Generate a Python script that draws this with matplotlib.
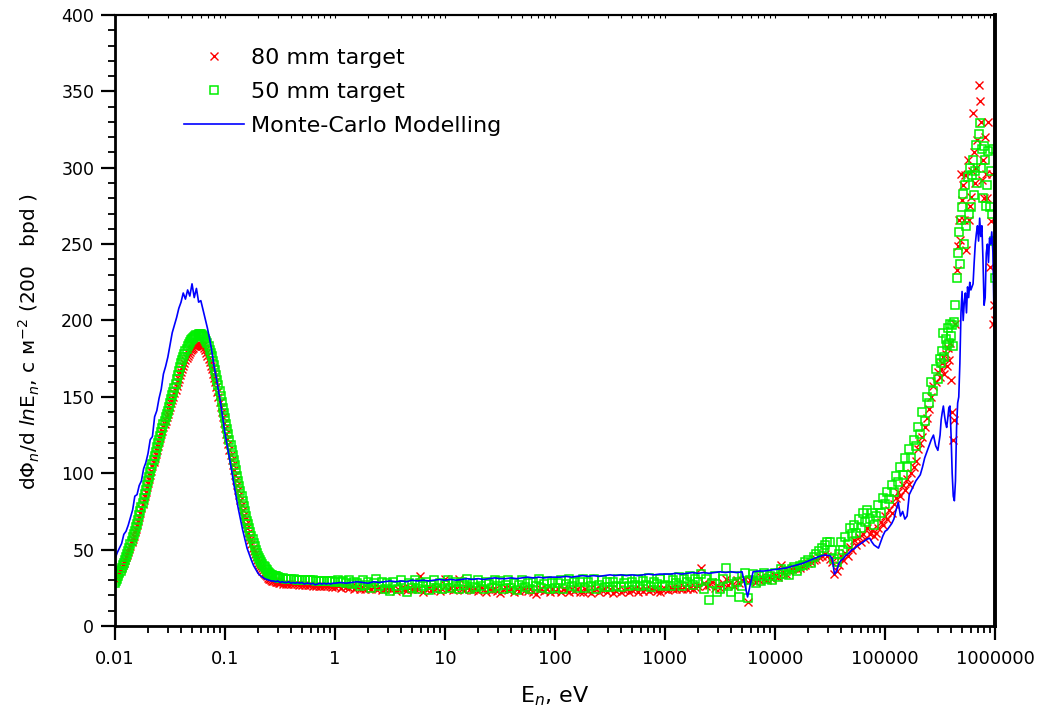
import numpy as np
import matplotlib.pyplot as plt
from matplotlib.ticker import LogLocator, MultipleLocator, NullFormatter

# lethargy bins, log10(E / eV)
# measured spectra: fine thermal grid, epithermal grid, fast and top-end grids
log_e_meas = np.concatenate([
    np.linspace(-2.0, -0.51, 150),
    np.linspace(-0.5, 4.5, 201),
    np.linspace(4.52, 5.5, 50),
    np.linspace(5.51, 6.0, 50),
])
# Monte-Carlo tally bins
log_e_mc = np.concatenate([
    np.linspace(-2.0, -0.02, 100),
    np.linspace(0.0, 4.5, 91),
    np.linspace(4.52, 5.5, 50),
    np.linspace(5.51, 6.0, 50),
])

# ---- 80 mm target (measured) ----
flux_80_thermal = [
    31, 32, 33, 34.2, 35.5, 37, 38.5, 40, 41.5, 43.2,
    45, 46.7, 48.5, 50.5, 52.5, 54.7, 57, 59.2, 61.5, 63.7,
    66, 68.7, 71.5, 74.2, 77, 79.7, 82.5, 85.2, 88, 90.7,
    93.5, 96.2, 99, 101.7, 104.5, 107.2, 110, 112.7, 115.5, 118,
    120.5, 123, 125.5, 127.7, 130, 132.2, 134.5, 136.7, 139, 141.2,
    143.5, 145.7, 148, 150.2, 152.5, 154.7, 157, 159.5, 162, 164.2,
    166.5, 168.5, 170.5, 172.2, 174, 175.5, 177, 178.2, 179.5, 180.5,
    181.5, 182.2, 183, 183.5, 184, 184.2, 184.5, 184.2, 184, 183.5,
    183, 181.7, 180.5, 178.7, 177, 175, 173, 170.5, 168, 165.2,
    162.5, 159.5, 156.5, 153.2, 150, 146.7, 143.5, 140, 136.5, 133,
    129.5, 126, 122.5, 119, 115.5, 112, 108.5, 105.2, 102, 98.7,
    95.5, 92.2, 89, 85.7, 82.5, 79.2, 76, 73, 70, 67,
    64, 61.2, 58.5, 56, 53.5, 51.2, 49, 47, 45, 43.2,
    41.5, 40, 38.5, 37.2, 36, 35, 34, 33.2, 32.5, 31.7,
    31, 30.5, 30, 29.7, 29.5, 29.2, 29, 28.7, 28.5, 28.2,
]
flux_80_epi = [
    28, 27.8, 27.7, 27.5, 27.5, 27.3, 27.2, 27, 27, 26.8,
    26.7, 26.6, 26.5, 26.4, 26.3, 26.2, 26.1, 26, 26, 25.8,
    25.5, 26, 25, 26, 25.5, 25, 26, 24.5, 25.5, 24,
    25, 24.5, 25, 24, 25.5, 24, 25, 23.5, 24.5, 25,
    24, 25, 23, 24.5, 25, 24, 23.5, 25, 24, 24.5,
    24, 33, 22, 24.5, 25, 23.5, 24, 25, 23, 24.5,
    31, 24, 25, 23.5, 24, 31, 24.5, 23.5, 25, 24,
    23.5, 24.5, 23, 25, 24, 22.5, 24.5, 23.5, 24, 23,
    21.5, 24, 25, 23.5, 24, 22.5, 24.5, 23, 24, 23.5,
    23, 24, 22.5, 21, 23.5, 24.5, 23, 24, 22.5, 24,
    23, 24, 22.5, 24, 23.5, 22, 24, 23, 24.5, 22.5,
    22, 24, 23, 21.5, 23.5, 24, 22, 23.5, 24, 22.5,
    24, 21.5, 23, 24, 22, 23.5, 24, 22.5, 23.5, 24,
    22.5, 24, 23, 24.5, 23, 24, 24.5, 23, 22.5, 24,
    24, 23.5, 25, 24, 24.5, 25, 24, 25.5, 24.5, 25,
    24, 25.5, 26, 38, 28, 26, 27, 29, 25, 27,
    25, 28, 31, 27, 29, 26, 30, 28, 30, 31,
    16, 30, 31, 29, 30, 32, 31, 30, 32, 31,
    33, 32, 40, 35, 34, 36, 37, 38, 37, 38,
    39, 40, 41, 42, 43, 44, 45, 46, 47, 46,
    44,
]
flux_80_fast = [
    42, 34, 36, 40, 46, 43, 48, 46, 52, 50,
    56, 53, 58, 55, 60, 57, 64, 60, 63, 59,
    61, 64, 68, 66, 72, 70, 76, 74, 80, 84,
    88, 85, 92, 89, 96, 93, 100, 104, 108, 116,
    120, 124, 130, 136, 142, 150, 157, 160, 166, 163,
]
flux_80_top = [
    168, 172, 176, 165, 178, 170, 182, 174, 185, 161,
    140, 122, 135, 198, 233, 249, 266, 253, 296, 279,
    289, 266, 295, 246, 305, 266, 275, 281, 298, 336,
    310, 290, 300, 318, 354, 344, 330, 292, 305, 280,
    320, 296, 280, 330, 235, 265, 296, 198, 210, 200,
]

# ---- 50 mm target (measured) ----
flux_50_thermal = [
    28, 29.5, 31, 32.7, 34.5, 36.2, 38, 39.7, 41.5, 43.2,
    45, 47, 49, 51.2, 53.5, 55.7, 58, 60.2, 62.5, 64.7,
    67, 69.7, 72.5, 75.2, 78, 80.7, 83.5, 86.2, 89, 92,
    95, 97.7, 100.5, 103.2, 106, 108.7, 111.5, 114.2, 117, 119.5,
    122, 124.5, 127, 129.5, 132, 134.2, 136.5, 138.7, 141, 143.5,
    146, 148.5, 151, 153.5, 156, 158.7, 161.5, 164.2, 167, 169.5,
    172, 174, 176, 178, 180, 181.5, 183, 184.5, 186, 187,
    188, 188.7, 189.5, 190, 190.5, 190.7, 191, 191, 191, 190.5,
    190, 189, 188, 186.5, 185, 183, 181, 178.7, 176.5, 173.7,
    171, 167.7, 164.5, 161, 157.5, 154, 150.5, 146.7, 143, 139.5,
    136, 132.5, 129, 125.5, 122, 118.5, 115, 111.7, 108.5, 105.2,
    102, 98.5, 95, 91.7, 88.5, 85.2, 82, 78.7, 75.5, 72.2,
    69, 66.5, 64, 61.5, 59, 56.7, 54.5, 52.2, 50, 48,
    46, 44.5, 43, 41.7, 40.5, 39.5, 38.5, 37.5, 36.5, 35.5,
    34.5, 34, 33.5, 33.2, 33, 32.7, 32.5, 32.2, 32, 31.7,
]
flux_50_epi = [
    31.5, 31.2, 31, 30.8, 30.5, 30.6, 30.4, 30.3, 30.2, 30,
    30.1, 29.8, 29.9, 29.6, 29.7, 29.4, 29.6, 29.3, 29.5, 29.2,
    29, 30, 28.5, 29.5, 28, 30, 27.5, 29, 28, 26.5,
    30, 27, 29, 25, 28, 31, 26, 29, 24, 28,
    23, 29, 26, 24, 30, 27, 22.5, 28, 25, 30,
    24, 28, 26.5, 29, 23.5, 27, 30, 25, 28, 24,
    27, 30, 25, 28.5, 26, 24, 29, 27, 30.5, 24,
    28, 25.5, 30, 26, 24.5, 29, 27.5, 25, 30, 26,
    29.5, 24, 27, 30, 25, 28, 23.5, 27, 30, 25.5,
    28, 24.5, 29, 26, 30.5, 25, 27.5, 29.5, 24.5, 28,
    25, 28, 30, 24.5, 27.5, 30.5, 26, 29, 25, 28.5,
    30.5, 25, 28.5, 26, 31, 24.5, 27, 30, 25.5, 29,
    25.5, 29, 26.5, 31, 25.5, 28, 30.5, 26, 29, 27,
    31, 26, 29.5, 27, 31.5, 25.5, 29, 27.5, 31, 26,
    27, 31.5, 26.5, 30, 28, 32, 26, 30.5, 28.5, 32.5,
    27, 31, 29, 34, 24, 31, 17, 28, 33, 22,
    24, 31, 38, 26, 22, 33, 29, 19, 26, 35,
    18.5, 30, 34, 28, 33, 29.5, 35, 31, 33, 30,
    35, 32, 37, 34, 36, 33.5, 37, 38.5, 36, 39,
    40, 42, 43, 41, 45, 47, 49, 51, 53, 55,
    55,
]
flux_50_fast = [
    50, 44, 42, 47, 55, 50, 58, 54, 64, 60,
    66, 61, 70, 64, 74, 68, 76, 70, 74, 66,
    72, 79, 74, 84, 80, 88, 83, 92, 88, 98,
    94, 104, 99, 110, 104, 116, 110, 122, 118, 130,
    126, 140, 134, 150, 146, 160, 154, 168, 162, 175,
]
flux_50_top = [
    172, 180, 192, 176, 188, 184, 195, 185, 198, 190,
    197, 183, 199, 210, 228, 244, 258, 237, 266, 274,
    283, 250, 289, 262, 294, 270, 300, 274, 295, 305,
    282, 298, 315, 290, 322, 329, 300, 312, 280, 314,
    305, 275, 289, 311, 274, 298, 270, 312, 252, 228,
]

# ---- Monte-Carlo calculation ----
flux_mc_thermal = [
    44, 48, 51, 54, 60, 62, 66, 71, 76, 85,
    86, 92, 95, 103, 107, 113, 122, 124, 137, 141,
    149, 155, 165, 170, 176, 184, 192, 197, 202, 208,
    212, 218, 214, 220, 216, 224, 215, 221, 212, 213,
    207, 201, 195, 188, 180, 170, 163, 154, 146, 136,
    126, 118, 110, 102, 93, 85, 77, 70, 63, 57,
    51, 47, 43, 39.5, 37, 34.5, 33, 32, 31, 30.5,
    30, 29.5, 29.5, 29, 29.5, 28.5, 29, 28.5, 28.5, 29,
    28, 28.5, 28, 28.5, 28, 28.5, 27.5, 28, 28, 27.5,
    28, 27, 27.5, 28, 27.5, 28, 27.5, 28, 27.5, 28,
]
flux_mc_epi = [
    28, 28.5, 28, 28.5, 29, 28.5, 28, 29, 28.5, 29,
    29.5, 29, 29.5, 29, 30, 29.5, 30, 29.5, 30, 30.5,
    30, 30.5, 30, 30.5, 31, 30.5, 31, 30.5, 31, 31.5,
    31, 31, 31.5, 31, 31.5, 32, 31.5, 32, 31.5, 32,
    32, 32, 32.5, 32, 32.5, 33, 32.5, 33, 32.5, 33,
    33.5, 33, 33.5, 33, 33.5, 33, 33.5, 34, 33.5, 34,
    34, 34, 34.5, 34, 34.5, 35, 34.5, 35, 34.5, 35,
    35.5, 35, 35.5, 35, 35.5, 19, 35.5, 36, 36, 36.5,
    37, 37.5, 38, 39, 40, 41, 42.5, 44, 45.5, 46.5,
    46,
]
flux_mc_fast = [
    44, 34, 36, 41, 43, 44, 46, 47, 48.5, 50,
    50.5, 52, 53, 54, 55, 56, 57, 57.5, 55, 53,
    52, 51, 55, 59, 62, 63, 65, 67, 70, 76,
    81, 72, 75, 70, 72, 86, 89, 92, 95, 97,
    99, 104, 110, 114, 118, 122, 125, 118, 115, 125,
]
flux_mc_top = [
    135, 140, 144, 138, 133, 130, 136, 143, 144, 125,
    100, 85, 82, 95, 130, 146, 150, 172, 205, 219,
    200, 212, 218, 205, 222, 215, 225, 220, 222, 224,
    238, 250, 257, 262, 252, 267, 255, 262, 240, 210,
    215, 244, 250, 238, 254, 250, 258, 245, 205, 157,
]

x_tick_labels = ["0.01", "0.1", "1", "10", "100", "1000",
                 "10000", "100000", "1000000"]

e_meas = 10.0 ** log_e_meas
e_mc = 10.0 ** log_e_mc
flux_80 = flux_80_thermal + flux_80_epi + flux_80_fast + flux_80_top
flux_50 = flux_50_thermal + flux_50_epi + flux_50_fast + flux_50_top
flux_mc = flux_mc_thermal + flux_mc_epi + flux_mc_fast + flux_mc_top

fig = plt.figure(figsize=(10.4, 7.17), dpi=100)
ax = fig.add_axes([0.1106, 0.1269, 0.8462, 0.8522])

ax.plot(e_meas, flux_80, ls="none", marker="x", ms=6, mew=1.0,
        color="#ff0000", label="80 mm target")
ax.plot(e_meas, flux_50, ls="none", marker="s", ms=6, mew=1.1,
        mfc="none", mec="#00f000", label="50 mm target")
ax.plot(e_mc, flux_mc, color="#0000ff", lw=1.2,
        label="Monte-Carlo Modelling")

ax.set_xscale("log")
ax.set_xlim(0.01, 1e6)
ax.set_ylim(0, 400)

ax.set_xticks(10.0 ** np.arange(-2, 7), labels=x_tick_labels)
ax.xaxis.set_minor_locator(LogLocator(base=10, subs=range(2, 10), numticks=20))
ax.xaxis.set_minor_formatter(NullFormatter())
ax.yaxis.set_major_locator(MultipleLocator(50))
ax.yaxis.set_minor_locator(MultipleLocator(10))

ax.tick_params(axis="x", which="major", direction="out", length=10,
               width=1.6, labelsize=13, pad=7)
ax.tick_params(axis="x", which="minor", direction="out", length=5, width=1.3)
ax.tick_params(axis="y", which="major", direction="out", length=10,
               width=1.6, labelsize=12.5, pad=5)
ax.tick_params(axis="y", which="minor", direction="out", length=5, width=1.3)
ax.tick_params(right=False, top=False, which="both")

# small inward ticks along the top frame
top = ax.secondary_xaxis("top")
top.tick_params(which="both", direction="in", length=2.5, width=0.8,
                labeltop=False)
top.spines["top"].set_linewidth(1.5)

ax.spines["left"].set_linewidth(2.0)
ax.spines["bottom"].set_linewidth(2.0)
ax.spines["top"].set_linewidth(1.5)
ax.spines["right"].set_linewidth(2.8)

ax.set_ylabel(r"d$\Phi_n$/d $ln$E$_n$, с м$^{-2}$ (200   bpd )", fontsize=14.5)
ax.yaxis.set_label_coords(-0.083, 0.465)
ax.set_xlabel(r"E$_n$, eV", fontsize=16)
ax.xaxis.set_label_coords(0.5, -0.096)

ax.legend(loc="upper left", bbox_to_anchor=(0.078, 0.946), frameon=False,
          fontsize=16, handlelength=2.7, handletextpad=0.32,
          labelspacing=0.63, borderpad=0, borderaxespad=0)

fig.savefig("out.png", dpi=100)
